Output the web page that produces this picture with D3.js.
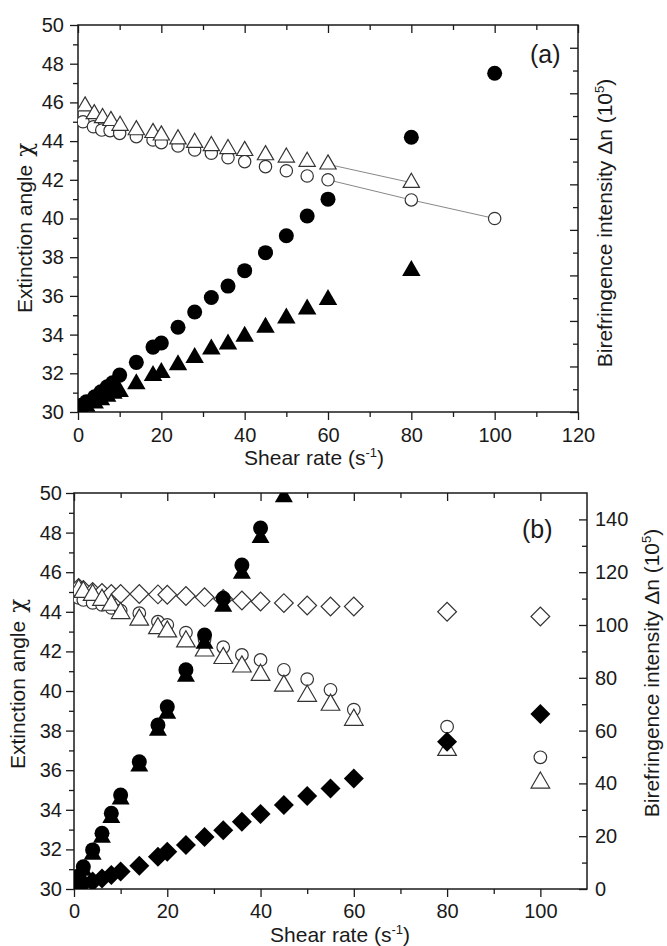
<!DOCTYPE html>
<html>
<head>
<meta charset="utf-8">
<script src="https://cdn.jsdelivr.net/npm/d3@7"></script>
<style>
body { margin: 0; background: #fff; }
svg text { font-family: "Liberation Sans", Arial, sans-serif; }
</style>
</head>
<body>
<svg width="667" height="946"></svg>
<script>
// ---- panel (a) ----
var aShearOpenCircle = [1.2, 3.7, 5.7, 7.7, 10, 14, 18, 20, 24, 28, 32, 36, 40, 45, 50, 55, 60, 80, 100];
var aChiOpenCircle   = [45.0, 44.74, 44.57, 44.54, 44.4, 44.23, 44.06, 43.92, 43.75, 43.54, 43.37, 43.14, 42.94, 42.68, 42.47, 42.2, 42.0, 40.96, 40.0];
var aShearOpenTri    = [1.7, 3.9, 5.9, 7.9, 10.1, 14, 18, 20, 24, 28, 32, 36, 40, 45, 50, 55, 60, 80];
var aChiOpenTri      = [45.8, 45.4, 45.2, 45.05, 44.8, 44.57, 44.43, 44.3, 44.1, 43.92, 43.75, 43.6, 43.5, 43.28, 43.16, 42.94, 42.8, 41.85];
var aShearFilledCircle = [0.5, 2, 4, 5.5, 7, 8.3, 10, 14, 18, 20, 24, 28, 32, 36, 40, 45, 50, 55, 60, 80, 100];
var aDnFilledCircle    = [2.8, 4.5, 6.7, 8.9, 11.1, 12.8, 16.2, 21.8, 28.5, 30.3, 37.2, 43.9, 50.3, 55.3, 62.1, 70.0, 77.4, 86.1, 93.5, 120.7, 148.8];
var aShearFilledTri    = [0.5, 2, 4, 5.5, 7, 8.5, 10, 14, 18, 20, 24, 28, 32, 36, 40, 45, 50, 55, 60, 80];
var aDnFilledTri       = [1.6, 2.4, 3.9, 5.3, 6.8, 8.2, 8.9, 12.3, 16.0, 17.3, 20.7, 23.9, 27.6, 29.8, 33.2, 37.2, 41.2, 45.2, 49.3, 62.1];

// ---- panel (b) ----
var bShear        = [1, 2, 4, 6, 8, 10, 14, 18, 20, 24, 28, 32, 36, 40, 45, 50, 55, 60, 80, 100];
var bChiDiamond   = [45.2, 45.1, 45.0, 44.95, 44.9, 44.9, 44.9, 44.88, 44.86, 44.8, 44.74, 44.65, 44.57, 44.52, 44.44, 44.32, 44.27, 44.27, 44.0, 43.76];
var bChiCircle    = [44.7, 44.6, 44.45, 44.35, 44.2, 44.06, 43.93, 43.5, 43.34, 42.95, 42.6, 42.21, 41.82, 41.57, 41.07, 40.6, 40.06, 39.06, 38.2, 36.65];
var bChiTri       = [45.1, 45.0, 44.85, 44.6, 44.35, 43.93, 43.6, 43.17, 43.0, 42.5, 42.04, 41.66, 41.23, 40.81, 40.26, 39.75, 39.3, 38.54, 37.02, 35.37];
var bDnDiamond    = [1.5, 2.2, 2.8, 4.0, 5.3, 6.6, 8.8, 12.2, 14.1, 16.7, 19.7, 22.3, 25.5, 28.4, 31.8, 35.2, 38.1, 41.9, 55.8, 66.3];
var bShearFilled  = [1, 2, 4, 6, 8, 10, 14, 18, 20, 24, 28, 32, 36, 40, 45];
var bDnCircle     = [5, 8.4, 14.8, 21.1, 28.7, 35.6, 48.2, 62.1, 69.0, 83.0, 96.2, 110.1, 122.7, 136.7, 153];
var bDnTri        = [3.5, 7, 13, 19.5, 27, 34, 46.5, 60, 66.5, 80.5, 93, 107, 119.5, 133, 148.5];

// ticks
var chiMajor = d3.range(30, 51, 2), chiMinor = d3.range(31, 50, 2);
var aXMajor = d3.range(0, 121, 20), aXMinor = d3.range(10, 120, 20);
var bXMajor = d3.range(0, 101, 20), bXMinor = d3.range(10, 110, 20);
var aRMajor = d3.range(0, 170, 20), aRMinor = d3.range(10, 170, 20);
var bRMajor = d3.range(0, 141, 20), bRMinor = d3.range(10, 150, 20);

var svg = d3.select("svg");
svg.append("rect").attr("width", 667).attr("height", 946).attr("fill", "#fff");

var ink = "#1a1a1a";

function zip(xs, ys) { return xs.map(function(v, i) { return [v, ys[i]]; }); }

function panel(o) {
  var g = svg.append("g");
  var x = d3.scaleLinear().domain(o.xDomain).range([o.left, o.right]),
      y = d3.scaleLinear().domain([30, 50]).range([o.bottom, o.top]),
      y2 = d3.scaleLinear().domain(o.rDomain).range([o.bottom, o.top]);

  function style(sel) {
    sel.attr("font-size", 20).attr("font-family", null).attr("color", ink);
    sel.select(".domain").remove();
    sel.selectAll("line").attr("stroke-width", 1.3);
  }

  g.append("g").attr("transform", "translate(0," + o.bottom + ")")
    .call(d3.axisBottom(x).tickValues(o.xMajor).tickSize(8).tickPadding(o.xPad)).call(style);
  g.append("g").attr("transform", "translate(0," + o.bottom + ")")
    .call(d3.axisBottom(x).tickValues(o.xMinor).tickSize(5).tickFormat("")).call(style);
  g.append("g").attr("transform", "translate(0," + o.top + ")")
    .call(d3.axisTop(x).tickValues(o.xMajor).tickSize(-8).tickFormat("")).call(style);
  g.append("g").attr("transform", "translate(0," + o.top + ")")
    .call(d3.axisTop(x).tickValues(o.xMinor).tickSize(-5).tickFormat("")).call(style);

  g.append("g").attr("transform", "translate(" + o.left + ",0)")
    .call(d3.axisLeft(y).tickValues(chiMajor).tickSize(8).tickPadding(o.yPad)).call(style);
  g.append("g").attr("transform", "translate(" + o.left + ",0)")
    .call(d3.axisLeft(y).tickValues(chiMinor).tickSize(5).tickFormat("")).call(style);

  var right = d3.axisRight(y2).tickValues(o.rMajor).tickSize(-8).tickPadding(8);
  if (!o.rLabels) right.tickFormat("");
  g.append("g").attr("transform", "translate(" + o.right + ",0)").call(right).call(style);
  g.append("g").attr("transform", "translate(" + o.right + ",0)")
    .call(d3.axisRight(y2).tickValues(o.rMinor).tickSize(-5).tickFormat("")).call(style);

  g.append("rect")
    .attr("x", o.left).attr("y", o.top)
    .attr("width", o.right - o.left).attr("height", o.bottom - o.top)
    .attr("fill", "none").attr("stroke", ink).attr("stroke-width", 1.5);

  g.append("clipPath").attr("id", o.id)
    .append("rect").attr("x", o.left).attr("y", o.top)
    .attr("width", o.right - o.left).attr("height", o.bottom - o.top);

  var plot = g.append("g").attr("clip-path", "url(#" + o.id + ")");
  return {g: g, plot: plot, x: x, y: y, y2: y2};
}

function marks(p, data, yScale, type, size, filled, rot) {
  p.plot.append("g").selectAll("path")
      .data(data)
    .enter().append("path")
      .attr("transform", function(d) {
        return "translate(" + p.x(d[0]) + "," + yScale(d[1]) + ")" + (rot ? " rotate(45)" : "");
      })
      .attr("d", d3.symbol().type(type).size(size))
      .attr("fill", filled ? "#000" : "#fff")
      .attr("stroke", filled ? "none" : "#333")
      .attr("stroke-width", 1.2);
}

// ---------- (a) ----------
var pa = panel({id: "clipA", left: 78, right: 578, top: 25, bottom: 412,
  xDomain: [0, 120], rDomain: [0, 170], xMajor: aXMajor, xMinor: aXMinor,
  rMajor: aRMajor, rMinor: aRMinor, rLabels: false, xPad: 8, yPad: 6});

var lineA = d3.line().x(function(d) { return pa.x(d[0]); }).y(function(d) { return pa.y(d[1]); });
pa.plot.append("path")
  .datum(zip(aShearOpenCircle, aChiOpenCircle).filter(function(d) { return d[0] >= 60; }))
  .attr("d", lineA).attr("fill", "none").attr("stroke", "#888").attr("stroke-width", 1);
pa.plot.append("path")
  .datum(zip(aShearOpenTri, aChiOpenTri).filter(function(d) { return d[0] >= 60; }))
  .attr("d", lineA).attr("fill", "none").attr("stroke", "#888").attr("stroke-width", 1);

marks(pa, zip(aShearOpenCircle, aChiOpenCircle), pa.y, d3.symbolCircle, 120, false);
marks(pa, zip(aShearOpenTri, aChiOpenTri), pa.y, d3.symbolTriangle, 115, false);
marks(pa, zip(aShearFilledCircle, aDnFilledCircle), pa.y2, d3.symbolCircle, 177, true);
marks(pa, zip(aShearFilledTri, aDnFilledTri), pa.y2, d3.symbolTriangle, 148, true);

// ---------- (b) ----------
var pb = panel({id: "clipB", left: 74, right: 587, top: 493, bottom: 889,
  xDomain: [0, 110], rDomain: [0, 150], xMajor: bXMajor, xMinor: bXMinor,
  rMajor: bRMajor, rMinor: bRMinor, rLabels: true, xPad: 7, yPad: 4});

marks(pb, zip(bShear, bChiDiamond), pb.y, d3.symbolSquare, 175, false, true);
marks(pb, zip(bShear, bChiCircle), pb.y, d3.symbolCircle, 125, false);
marks(pb, zip(bShear, bChiTri), pb.y, d3.symbolTriangle, 150, false);
marks(pb, zip(bShearFilled, bDnTri), pb.y2, d3.symbolTriangle, 140, true);
marks(pb, zip(bShearFilled, bDnCircle), pb.y2, d3.symbolCircle, 177, true);
marks(pb, zip(bShear, bDnDiamond), pb.y2, d3.symbolSquare, 200, true, true);

// ---------- titles ----------
function xTitle(cx, cy) {
  var t = svg.append("text").attr("x", cx).attr("y", cy)
    .attr("text-anchor", "middle").attr("font-size", 21).attr("fill", ink);
  t.append("tspan").text("Shear rate (s");
  t.append("tspan").attr("font-size", 13).attr("dy", -8).text("-1");
  t.append("tspan").attr("dy", 8).text(")");
}
function leftTitle(cx, cy) {
  var t = svg.append("text").attr("transform", "translate(" + cx + "," + cy + ") rotate(-90)")
    .attr("text-anchor", "middle").attr("font-size", 21).attr("fill", ink);
  t.append("tspan").text("Extinction angle");
  t.append("tspan").attr("dx", 8).attr("font-family", "DejaVu Serif").attr("font-size", 23).text("\u03c7");
}
function rightTitle(cx, cy) {
  var t = svg.append("text").attr("transform", "translate(" + cx + "," + cy + ") rotate(-90)")
    .attr("text-anchor", "middle").attr("font-size", 21).attr("fill", ink);
  t.append("tspan").text("Birefringence intensity \u0394n (10");
  t.append("tspan").attr("font-size", 13).attr("dy", -8).text("5");
  t.append("tspan").attr("dy", 8).text(")");
}

xTitle(314, 465);
leftTitle(32, 228);
rightTitle(612, 223);
svg.append("text").attr("x", 530).attr("y", 63).attr("font-size", 25).attr("fill", ink).text("(a)");

xTitle(340, 942);
leftTitle(25, 684);
rightTitle(659, 673);
svg.append("text").attr("x", 522).attr("y", 538).attr("font-size", 25).attr("fill", ink).text("(b)");
</script>
</body>
</html>
